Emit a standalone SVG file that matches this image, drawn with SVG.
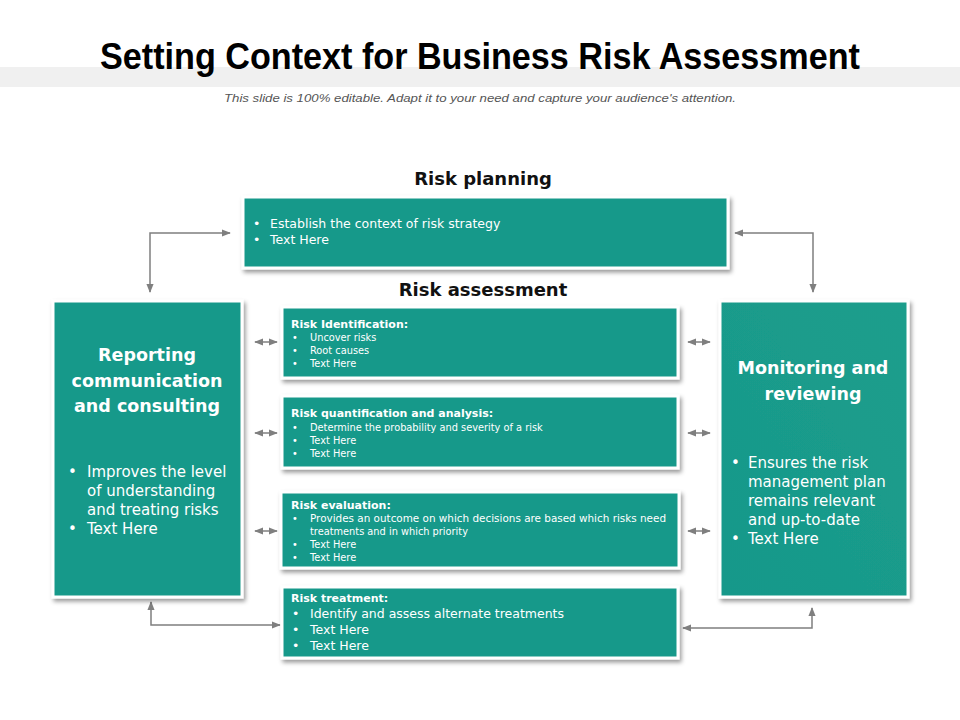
<svg xmlns="http://www.w3.org/2000/svg" width="960" height="720" viewBox="0 0 960 720">
<defs>
<style>
.title{font-family:"Liberation Sans",Arial,sans-serif;font-weight:bold;font-size:36px;fill:#000}
.sub{font-family:"Liberation Sans",Arial,sans-serif;font-style:italic;font-size:11px;fill:#555}
.sec{font-family:"DejaVu Sans",sans-serif;font-weight:bold;font-size:18px;fill:#111}
.box{fill:#18998a;stroke:#fff;stroke-width:3}
.wt{font-family:"DejaVu Sans",sans-serif;fill:#fff}
.hd{font-weight:bold;font-size:11px}
.sm{font-size:9.8px}
.md{font-size:12.5px}
.big{font-weight:bold;font-size:17.5px}
.lg{font-size:15px}
.conn{fill:none;stroke:#7f7f7f;stroke-width:1.5}
</style>
<linearGradient id="g" x1="0" y1="1" x2="1" y2="0">
<stop offset="0" stop-color="#17988a"/>
<stop offset="1" stop-color="#1c9e8c"/>
</linearGradient>
<filter id="sh" x="-10%" y="-10%" width="125%" height="130%">
<feDropShadow dx="2" dy="3" stdDeviation="2" flood-color="#000" flood-opacity="0.4"/>
</filter>
<marker id="ah" viewBox="0 0 10 10" refX="9" refY="5" markerWidth="6" markerHeight="6" orient="auto-start-reverse">
<path d="M0,1 L10,5 L0,9 z" fill="#7f7f7f"/>
</marker>
</defs>
<rect width="960" height="720" fill="#fff"/>
<rect x="0" y="67" width="960" height="20" fill="#f0f0f0"/>
<text class="title" x="480" y="69" text-anchor="middle" textLength="760" lengthAdjust="spacingAndGlyphs">Setting Context for Business Risk Assessment</text>
<text class="sub" x="480" y="102" text-anchor="middle" textLength="512" lengthAdjust="spacingAndGlyphs">This slide is 100% editable. Adapt it to your need and capture your audience's attention.</text>

<text class="sec" x="483" y="185" text-anchor="middle">Risk planning</text>
<text class="sec" x="483" y="296" text-anchor="middle">Risk assessment</text>

<g id="connectors">
<polyline class="conn" points="230,233 150,233 150,292" marker-start="url(#ah)" marker-end="url(#ah)"/>
<polyline class="conn" points="735,233 813,233 813,292" marker-start="url(#ah)" marker-end="url(#ah)"/>
<polyline class="conn" points="151,602 151,625 280,625" marker-start="url(#ah)" marker-end="url(#ah)"/>
<polyline class="conn" points="812,608 812,628 683,628" marker-start="url(#ah)" marker-end="url(#ah)"/>
<line class="conn" x1="255" y1="342" x2="277" y2="342" marker-start="url(#ah)" marker-end="url(#ah)"/>
<line class="conn" x1="255" y1="433" x2="277" y2="433" marker-start="url(#ah)" marker-end="url(#ah)"/>
<line class="conn" x1="255" y1="531" x2="277" y2="531" marker-start="url(#ah)" marker-end="url(#ah)"/>
<line class="conn" x1="688" y1="342" x2="710" y2="342" marker-start="url(#ah)" marker-end="url(#ah)"/>
<line class="conn" x1="688" y1="433" x2="710" y2="433" marker-start="url(#ah)" marker-end="url(#ah)"/>
<line class="conn" x1="688" y1="531" x2="710" y2="531" marker-start="url(#ah)" marker-end="url(#ah)"/>
</g>

<g id="planning">
<rect class="box" x="243" y="197" width="485" height="71" filter="url(#sh)"/>
<g class="wt md">
<text x="253" y="228">•</text><text x="270" y="228">Establish the context of risk strategy</text>
<text x="253" y="244">•</text><text x="270" y="244">Text Here</text>
</g>
</g>

<g id="reporting">
<rect class="box" x="53" y="301" width="189" height="296" filter="url(#sh)"/>
<g class="wt big" text-anchor="middle">
<text x="147" y="361">Reporting</text>
<text x="147" y="387">communication</text>
<text x="147" y="412">and consulting</text>
</g>
<g class="wt lg">
<text x="68" y="477">•</text><text x="87" y="477">Improves the level</text>
<text x="87" y="496">of understanding</text>
<text x="87" y="515">and treating risks</text>
<text x="68" y="534">•</text><text x="87" y="534">Text Here</text>
</g>
</g>

<g id="monitoring">
<rect x="720" y="301" width="188" height="296" fill="url(#g)" stroke="#fff" stroke-width="3" filter="url(#sh)"/>
<g class="wt big" text-anchor="middle">
<text x="813" y="374">Monitoring and</text>
<text x="813" y="400">reviewing</text>
</g>
<g class="wt lg">
<text x="731" y="468">•</text><text x="748" y="468">Ensures the risk</text>
<text x="748" y="487">management plan</text>
<text x="748" y="506">remains relevant</text>
<text x="748" y="525">and up-to-date</text>
<text x="731" y="544">•</text><text x="748" y="544">Text Here</text>
</g>
</g>

<g id="identification">
<rect class="box" x="282" y="307" width="396" height="71" filter="url(#sh)"/>
<text class="wt hd" x="291" y="328">Risk Identification:</text>
<g class="wt sm">
<text x="292" y="341">•</text><text x="310" y="341">Uncover risks</text>
<text x="292" y="354">•</text><text x="310" y="354">Root causes</text>
<text x="292" y="367">•</text><text x="310" y="367">Text Here</text>
</g>
</g>

<g id="quantification">
<rect class="box" x="282" y="396" width="396" height="72" filter="url(#sh)"/>
<text class="wt hd" x="291" y="417">Risk quantification and analysis:</text>
<g class="wt sm">
<text x="292" y="431">•</text><text x="310" y="431">Determine the probability and severity of a risk</text>
<text x="292" y="444">•</text><text x="310" y="444">Text Here</text>
<text x="292" y="457">•</text><text x="310" y="457">Text Here</text>
</g>
</g>

<g id="evaluation">
<rect class="box" x="281" y="492" width="398" height="76" filter="url(#sh)"/>
<text class="wt hd" x="291" y="509">Risk evaluation:</text>
<g class="wt sm">
<text x="292" y="522">•</text><text x="310" y="522" textLength="356" lengthAdjust="spacingAndGlyphs">Provides an outcome on which decisions are based which risks need</text>
<text x="310" y="535">treatments and in which priority</text>
<text x="292" y="548">•</text><text x="310" y="548">Text Here</text>
<text x="292" y="561">•</text><text x="310" y="561">Text Here</text>
</g>
</g>

<g id="treatment">
<rect class="box" x="282" y="587" width="396" height="71" filter="url(#sh)"/>
<text class="wt hd" x="291" y="602">Risk treatment:</text>
<g class="wt md">
<text x="292" y="618">•</text><text x="310" y="618">Identify and assess alternate treatments</text>
<text x="292" y="634">•</text><text x="310" y="634">Text Here</text>
<text x="292" y="650">•</text><text x="310" y="650">Text Here</text>
</g>
</g>
</svg>
